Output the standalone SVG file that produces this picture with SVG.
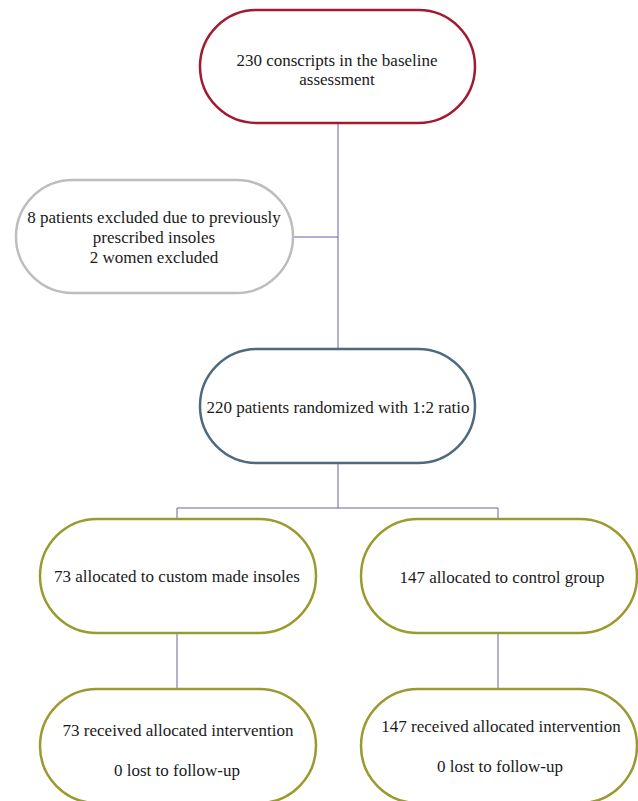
<svg xmlns="http://www.w3.org/2000/svg" width="638" height="801" viewBox="0 0 638 801">
<style>
.n{fill:#fff;stroke-width:2.5}
.t{font-family:"Liberation Serif","Times New Roman",serif;font-size:17px;fill:#1a1a1a;text-anchor:middle}
.c{fill:none;stroke:#6b63a3;stroke-width:1}
</style>
<rect width="638" height="801" fill="#fff"/>
<g id="connectors">
<path class="c" d="M338 123V349"/>
<path class="c" d="M293 237H338"/>
<path class="c" d="M338 463V508"/>
<path class="c" d="M177 519V508H498V519"/>
<path class="c" d="M177 633V689"/>
<path class="c" d="M498 633V689"/>
</g>
<g id="baseline">
<rect class="n" x="200" y="10" width="275" height="113" rx="56.5" stroke="#a31a30"/>
<text class="t" x="337" y="66">230 conscripts in the baseline</text>
<text class="t" x="337" y="85">assessment</text>
</g>
<g id="excluded">
<rect class="n" x="16" y="180" width="277" height="113" rx="56.5" stroke="#bdbdbd"/>
<text class="t" x="154" y="223">8 patients excluded due to previously</text>
<text class="t" x="154" y="243">prescribed insoles</text>
<text class="t" x="154" y="263">2 women excluded</text>
</g>
<g id="randomized">
<rect class="n" x="200" y="349" width="275" height="114" rx="57" stroke="#4d6a7e"/>
<text class="t" x="338" y="413">220 patients randomized with 1:2 ratio</text>
</g>
<g id="insoles">
<rect class="n" x="40" y="519" width="276" height="114" rx="57" stroke="#9a9a2e"/>
<text class="t" x="177" y="582">73 allocated to custom made insoles</text>
</g>
<g id="control">
<rect class="n" x="361" y="519" width="276" height="114" rx="57" stroke="#9a9a2e"/>
<text class="t" x="502" y="583">147 allocated to control group</text>
</g>
<g id="insoles-followup">
<rect class="n" x="40" y="689" width="276" height="114" rx="57" stroke="#9a9a2e"/>
<text class="t" x="178" y="736">73 received allocated intervention</text>
<text class="t" x="177" y="776">0 lost to follow-up</text>
</g>
<g id="control-followup">
<rect class="n" x="361" y="689" width="276" height="114" rx="57" stroke="#9a9a2e"/>
<text class="t" x="501" y="732">147 received allocated intervention</text>
<text class="t" x="500" y="772">0 lost to follow-up</text>
</g>
</svg>
